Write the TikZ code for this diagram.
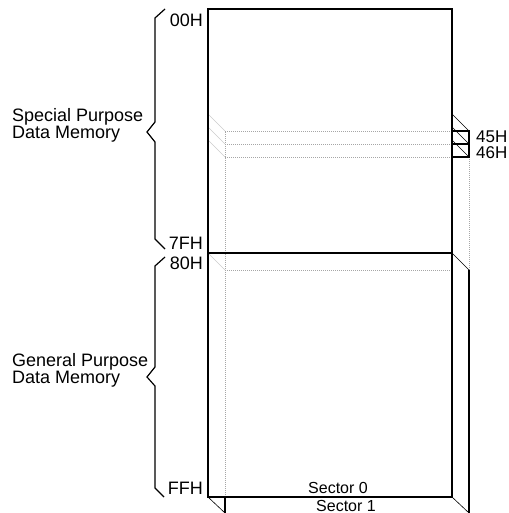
\documentclass[tikz,border=0pt]{standalone}
\usepackage{fontspec}
\setmainfont{Liberation Sans}
\begin{document}
\begin{tikzpicture}[x=1pt,y=-1pt,
  front/.style={line width=1.6pt},
  hidden/.style={gray!70,line width=0.6pt,dash pattern=on 1pt off 1pt},
  edge/.style={line width=0.6pt},
  brace/.style={line width=1.2pt},
  lbl/.style={inner sep=0pt,font=\fontsize{18}{16}\selectfont}]
  \useasboundingbox (0,0) rectangle (508,513);
  % sector 1, behind
  \draw[hidden] (225,497) -- (225,131) -- (452,131);
  \foreach \y in {144,157,270} \draw[hidden] (225,\y) -- (452,\y);
  \draw[hidden] (469,157) -- (469,270);
  \foreach \y in {114,127,140,253} \draw[gray!40,line width=0.5pt] (208,\y) -- (225,{\y+17});
  \foreach \y in {114,127,140,253} \draw[edge] (452,\y) -- (469,{\y+17});
  \draw[line width=1.2pt] (452,131) rectangle (469,157);
  \draw[line width=1.2pt] (452,144) -- (469,144);
  \draw[front] (469,270) -- (469,513);
  \draw[line width=1.2pt] (225,497) -- (225,513);
  \draw[edge] (208,497) -- (225,513);
  \draw[edge] (452,497) -- (469,513);
  % sector 0
  \draw[front] (208,9) rectangle (452,497);
  \draw[front] (208,253) -- (452,253);
  % braces
  \draw[brace] (165,9) -- (155,18) -- (155,122) -- (147,132) -- (155,142) -- (155,239) -- (165,249);
  \draw[brace] (165,257) -- (155,266) -- (155,367) -- (147,377) -- (155,386) -- (155,488) -- (164,497);
  % labels
  \node[lbl,anchor=east] (n00) at (203,20) {00H};
  \node[lbl,anchor=east] (n7f) at (203,243.5) {7FH};
  \node[lbl,anchor=east] (n80) at (203,263.5) {80H};
  \node[lbl,anchor=east] (nff) at (203,488.5) {FFH};
  \node[lbl,anchor=west,font=\fontsize{17}{16}\selectfont] (n45) at (476,137) {45H};
  \node[lbl,anchor=west,font=\fontsize{17}{16}\selectfont] (n46) at (476,152.5) {46H};
  \node[lbl,anchor=west,align=left] (spdm) at (12,125) {Special Purpose\\Data Memory};
  \node[lbl,anchor=west,align=left] (gpdm) at (12,370) {General Purpose\\Data Memory};
  \node[lbl,anchor=base,font=\fontsize{16}{16}\selectfont] (sec0) at (338,493) {Sector 0};
  \node[lbl,anchor=base,font=\fontsize{16}{16}\selectfont] (sec1) at (346,511) {Sector 1};
\end{tikzpicture}
\end{document}
